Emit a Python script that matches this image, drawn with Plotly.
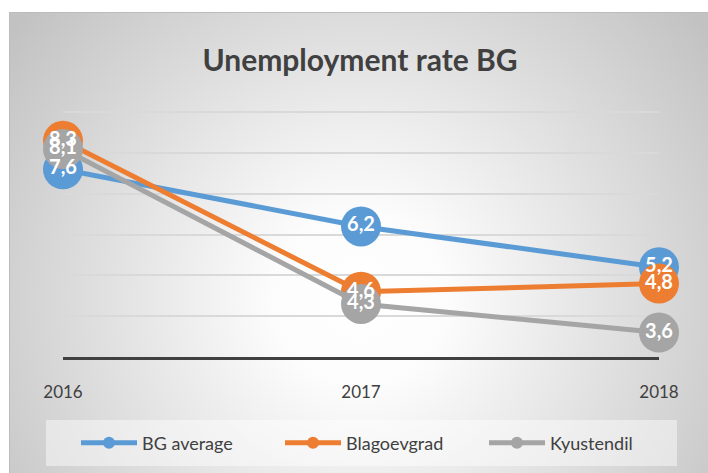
import base64
import plotly.graph_objects as go

years = [2016, 2017, 2018]
series_names = ["BG average", "Blagoevgrad", "Kyustendil"]
bg_average = [7.6, 6.2, 5.2]
blagoevgrad = [8.3, 4.6, 4.8]
kyustendil = [8.1, 4.3, 3.6]
colors = ["#5B9BD5", "#ED7D31", "#A5A5A5"]
title_text = "Unemployment rate BG"

W, H = 708, 473
L, R, T, B = 63, 49, 100, 116
PW, PH = W - L - R, H - T - B


def px_x(px):
    return (px - L) / PW


def px_y(py):
    return (H - B - py) / PH


def fmt(v):
    return f"{v:.1f}".replace(".", ",")


svg = f"""<svg xmlns='http://www.w3.org/2000/svg' width='{W}' height='{H}' viewBox='0 0 {W} {H}'>
<defs><radialGradient id='g' gradientUnits='userSpaceOnUse' cx='360' cy='300' r='440'>
<stop offset='0' stop-color='#ffffff'/><stop offset='0.2' stop-color='#fcfcfc'/>
<stop offset='1' stop-color='#c2c2c2'/></radialGradient></defs>
<rect width='{W}' height='{H}' fill='#ffffff'/>
<rect x='9.5' y='12.5' width='{W}' height='{H}' fill='url(#g)' stroke='#bcbcbc' stroke-width='1'/>
</svg>"""
bg_uri = "data:image/svg+xml;base64," + base64.b64encode(svg.encode()).decode()

fig = go.Figure()
all_series = [bg_average, blagoevgrad, kyustendil]
for name, vals, c in zip(series_names, all_series, colors):
    fig.add_trace(go.Scatter(
        x=years, y=vals, name=name, mode="lines+markers",
        line=dict(color=c, width=5),
        marker=dict(color=c, size=40, line=dict(width=0)),
        cliponaxis=False, hoverinfo="skip",
    ))
for name, vals in zip(series_names, all_series):
    fig.add_trace(go.Scatter(
        x=years, y=vals, mode="text", text=[fmt(v) for v in vals],
        textposition="middle center",
        textfont=dict(family="Lato", size=20, color="#ffffff", weight="bold"),
        showlegend=False, cliponaxis=False, hoverinfo="skip",
    ))

fig.update_layout(
    width=W, height=H,
    margin=dict(l=L, r=R, t=T, b=B, pad=0, autoexpand=False),
    paper_bgcolor="#ffffff",
    plot_bgcolor="rgba(0,0,0,0)",
    font=dict(family="Lato", color="#404040"),
    title=dict(
        text=title_text, x=px_x(360), xref="paper", xanchor="center",
        y=1 - 60 / H, yanchor="middle",
        font=dict(family="Lato", size=30, color="#404040", weight="bold"),
    ),
    xaxis=dict(
        range=[years[0], years[-1]], tickvals=years, ticktext=[str(y) for y in years],
        showgrid=False, zeroline=False, showline=True, linecolor="#404040", linewidth=3,
        ticks="outside", ticklen=18, tickcolor="rgba(0,0,0,0)",
        tickfont=dict(family="Lato", size=17, color="#404040"),
    ),
    yaxis=dict(
        range=[3, 9.3], dtick=1, tick0=3, showticklabels=False,
        showgrid=True, gridcolor="#d9d9d9", gridwidth=1.5, zeroline=False,
    ),
    legend=dict(
        orientation="h", x=px_x(688), xanchor="right", y=px_y(443), yanchor="middle",
        bgcolor="rgba(0,0,0,0)", itemsizing="constant", itemwidth=56,
        entrywidth=133, entrywidthmode="pixels",
        font=dict(family="Lato", size=18, color="#404040"),
    ),
    images=[dict(
        source=bg_uri, xref="paper", yref="paper",
        x=px_x(0), y=px_y(0), sizex=W / PW, sizey=H / PH,
        xanchor="left", yanchor="top", sizing="stretch", layer="below",
    )],
    shapes=[dict(
        type="rect", xref="paper", yref="paper",
        x0=px_x(46), x1=px_x(677), y0=px_y(466), y1=px_y(420),
        fillcolor="rgba(255,255,255,0.45)", line=dict(width=0), layer="below",
    )],
    showlegend=True,
)

fig.write_html("out.html", config={"displayModeBar": False},
               post_script="document.body.style.margin='0';")
